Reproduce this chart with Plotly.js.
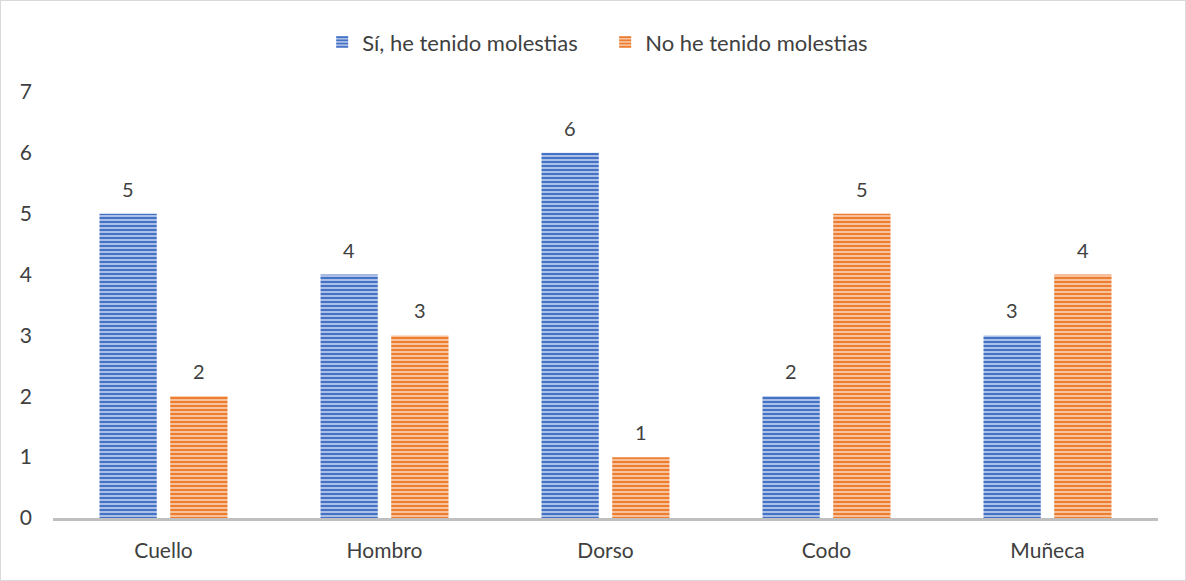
<!DOCTYPE html>
<html>
<head>
<meta charset="utf-8">
<script src="https://cdn.plot.ly/plotly-3.0.1.min.js"></script>
<style>
html,body{margin:0;padding:0;background:#fff;}
#chart{width:1184px;height:579px;border:1px solid #d9d9d9;}
</style>
</head>
<body>
<div id="chart"></div>
<script>
const categories = ["Cuello", "Hombro", "Dorso", "Codo", "Muñeca"];
const siValues = [5, 4, 6, 2, 3];
const noValues = [2, 3, 1, 5, 4];
const seriesNames = ["Sí, he tenido molestias", "No he tenido molestias"];
const yTicks = [0, 1, 2, 3, 4, 5, 6, 7];

const font = "Lato, 'Open Sans', sans-serif";
const textColor = "#404040";

function bar(name, y, fg, bg) {
  return {
    type: "bar", name: name, x: categories, y: y,
    marker: {
      color: fg,
      line: {width: 0},
      pattern: {shape: "-", fgcolor: fg, bgcolor: bg, fgopacity: 1, size: 4, solidity: 0.6, fillmode: "replace"}
    },
    hoverinfo: "none"
  };
}

const data = [
  bar(seriesNames[0], siValues, "#4472C4", "#c5d3ef"),
  bar(seriesNames[1], noValues, "#ED7D31", "#f9d2b6")
];

const annotations = [];
[[siValues, -35.25], [noValues, 35.25]].forEach(([vals, dx]) => {
  vals.forEach((v, i) => {
    annotations.push({x: categories[i], y: v, xref: "x", yref: "y", text: String(v),
      showarrow: false, xshift: dx, yshift: 25, yanchor: "middle",
      font: {size: 20, color: textColor, family: font}});
  });
});

const layout = {
  width: 1184, height: 579,
  margin: {l: 52, r: 27, t: 91, b: 62, autoexpand: false},
  paper_bgcolor: "#fff", plot_bgcolor: "#fff",
  font: {family: font, size: 20, color: textColor},
  barmode: "group", bargap: 0.36, bargroupgap: 0.19,
  showlegend: true,
  legend: {orientation: "h", x: 0.2436, xanchor: "left", y: 1.117, yanchor: "middle",
           font: {size: 22, color: textColor, family: font}, itemwidth: 30, entrywidth: 238,
           entrywidthmode: "pixels", traceorder: "normal"},
  annotations: annotations,
  xaxis: {showline: true, linecolor: "#bfbfbf", linewidth: 3, ticks: "", showgrid: false,
          zeroline: false, tickfont: {size: 21, color: textColor}, ticklabelstandoff: 12, fixedrange: true},
  yaxis: {range: [0, 7], tickvals: yTicks, showgrid: false, zeroline: false, showline: false,
          ticks: "", tickfont: {size: 21, color: textColor}, ticklabelstandoff: 20, fixedrange: true},
};

Plotly.newPlot("chart", data, layout, {displayModeBar: false, staticPlot: true});
</script>
</body>
</html>
